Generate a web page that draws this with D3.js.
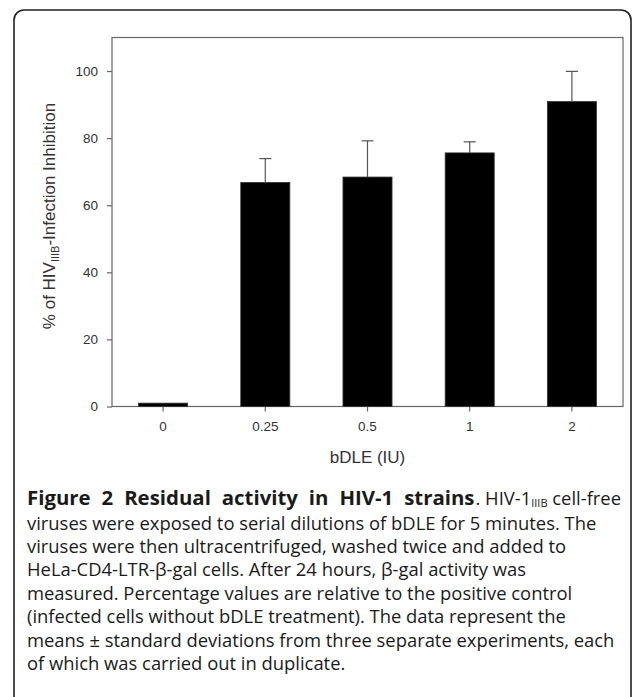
<!doctype html>
<html lang="en">
  <head>
    <meta charset="utf-8">
    <title>Residual activity in HIV-1 strains</title>
    <!-- Load d3.js -->
    <script src="https://d3js.org/d3.v7.min.js"></script>
    <style>
      body { margin: 0; background: #fff; }
      svg { display: block; }
    </style>
  </head>
  <body>
    <div id="chart"></div>
    <script>

      // data
      const doses = ["0", "0.25", "0.5", "1", "2"];
      const inhibition = [1.0, 66.8, 68.4, 75.6, 90.9];
      const sdev = [0, 7.1, 10.8, 3.3, 9.0];
      const yTicks = [0, 20, 40, 60, 80, 100];

      const captionLines = [
        "viruses were exposed to serial dilutions of bDLE for 5 minutes. The",
        "viruses were then ultracentrifuged, washed twice and added to",
        "HeLa-CD4-LTR-\u03B2-gal cells. After 24 hours, \u03B2-gal activity was",
        "measured. Percentage values are relative to the positive control",
        "(infected cells without bDLE treatment). The data represent the",
        "means \u00B1 standard deviations from three separate experiments, each",
        "of which was carried out in duplicate."
      ];

      const W = 633, H = 697;
      const plot = {left: 112, right: 623, top: 37.5, bottom: 406.5};

      const svg = d3.select("#chart")
        .append("svg")
          .attr("width", W)
          .attr("height", H);

      // rounded frame round the whole figure (runs off the bottom)
      svg.append("rect")
        .attr("x", 14)
        .attr("y", 10)
        .attr("width", 617)
        .attr("height", 760)
        .attr("rx", 10)
        .attr("fill", "none")
        .attr("stroke", "#222")
        .attr("stroke-width", 1.6);

      // scales
      const x = d3.scaleBand()
        .domain(doses)
        .range([plot.left, plot.right])
        .paddingInner(0.52)
        .paddingOuter(0.26);

      const y = d3.scaleLinear()
        .domain([0, 110])
        .range([plot.bottom, plot.top]);

      // plot box
      svg.append("rect")
        .attr("x", plot.left)
        .attr("y", plot.top)
        .attr("width", plot.right - plot.left)
        .attr("height", plot.bottom - plot.top)
        .attr("fill", "none")
        .attr("stroke", "#666")
        .attr("stroke-width", 1.2);

      // Y axis
      const yAxis = svg.append("g")
        .attr("transform", `translate(${plot.left},0)`)
        .call(d3.axisLeft(y).tickValues(yTicks).tickSize(5).tickPadding(9));
      yAxis.select(".domain").remove();

      // X axis
      const xAxis = svg.append("g")
        .attr("transform", `translate(0,${plot.bottom})`)
        .call(d3.axisBottom(x).tickSize(5).tickPadding(10));
      xAxis.select(".domain").remove();

      svg.selectAll(".tick line").attr("stroke", "#666").attr("stroke-width", 1.2);
      svg.selectAll(".tick text")
        .attr("fill", "#333")
        .style("font-family", "Liberation Sans, Arial, sans-serif")
        .style("font-size", "13.5px");

      // bars
      svg.selectAll("rect.bar")
        .data(inhibition)
        .join("rect")
          .attr("class", "bar")
          .attr("x", (d, i) => x(doses[i]))
          .attr("y", d => y(d))
          .attr("width", x.bandwidth())
          .attr("height", d => y(0) - y(d))
          .attr("fill", "#000")
          .attr("stroke", "#333")
          .attr("stroke-width", 0.8);

      // error bars (upper half only)
      const errs = svg.append("g")
        .attr("stroke", "#555")
        .attr("stroke-width", 1.2);
      inhibition.forEach((v, i) => {
        if (!sdev[i]) return;
        const cx = x(doses[i]) + x.bandwidth() / 2;
        errs.append("line")
          .attr("x1", cx).attr("x2", cx)
          .attr("y1", y(v)).attr("y2", y(v + sdev[i]));
        errs.append("line")
          .attr("x1", cx - 6).attr("x2", cx + 6)
          .attr("y1", y(v + sdev[i])).attr("y2", y(v + sdev[i]));
      });

      // axis titles
      svg.append("text")
        .attr("x", (plot.left + plot.right) / 2)
        .attr("y", 463)
        .attr("text-anchor", "middle")
        .attr("fill", "#333")
        .style("font-family", "Liberation Sans, Arial, sans-serif")
        .style("font-size", "17px")
        .text("bDLE (IU)");

      const yTitle = svg.append("text")
        .attr("transform", "translate(55,216) rotate(-90)")
        .attr("text-anchor", "middle")
        .attr("fill", "#333")
        .style("font-family", "Liberation Sans, Arial, sans-serif")
        .style("font-size", "17px");
      yTitle.append("tspan").text("% of HIV");
      yTitle.append("tspan").attr("dy", 4).style("font-size", "11px").text("IIIB");
      yTitle.append("tspan").attr("dy", -4).text("-Infection Inhibition");

      // caption
      const capX = 27, capY = 505, lineH = 23.4, capRight = 621;
      const cap = svg.append("g")
        .style("font-family", "Open Sans, sans-serif")
        .style("font-size", "18.4px")
        .attr("fill", "#1a1a1a");

      // first line is set full width: bold title, then the rest flush right
      const title = cap.append("text")
        .attr("x", capX).attr("y", capY)
        .style("font-weight", "bold")
        .style("font-size", "20.4px")
        .text("Figure 2 Residual activity in HIV-1 strains");
      const rest = cap.append("text").attr("y", capY);
      rest.append("tspan").text(". HIV-1");
      rest.append("tspan").attr("dy", 2).style("font-size", "11px").text("IIIB");
      rest.append("tspan").attr("dy", -2).text(" cell-free");
      const restW = rest.node().getComputedTextLength();
      rest.attr("x", capRight - restW);
      // stretch the title by widening its word gaps
      const titleW = title.node().getComputedTextLength();
      const gap = Math.max(0, (capRight - restW - capX - 1 - titleW) / 6);
      title.style("word-spacing", gap + "px");

      cap.selectAll("text.line")
        .data(captionLines)
        .join("text")
          .attr("class", "line")
          .attr("x", capX)
          .attr("y", (d, i) => capY + 24.5 + i * lineH)
          .text(d => d);

    </script>
  </body>
</html>
